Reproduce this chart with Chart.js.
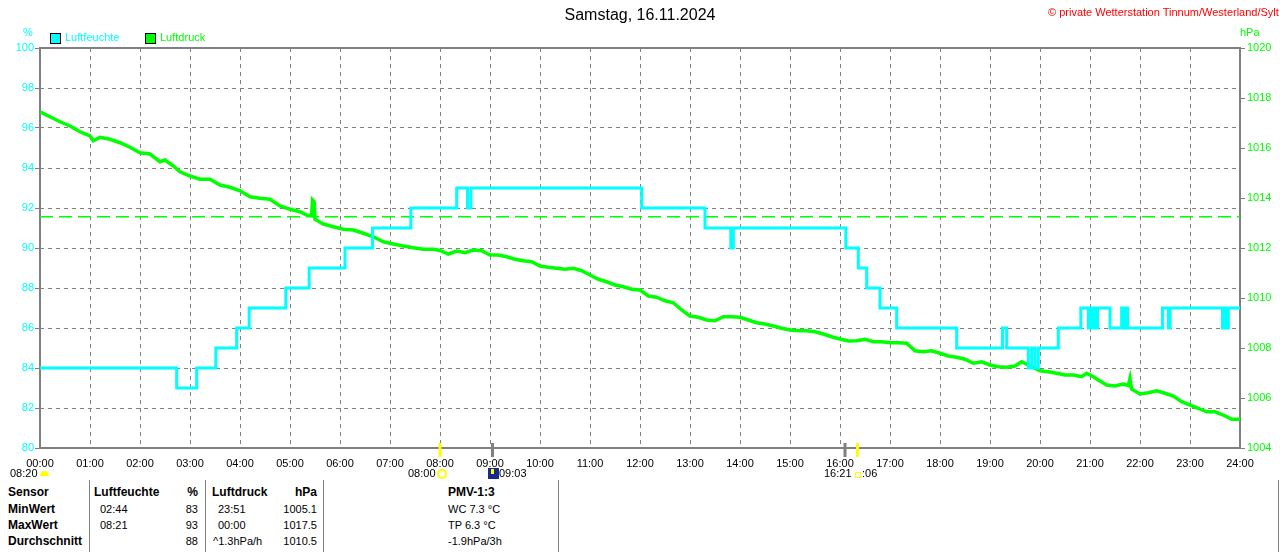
<!DOCTYPE html>
<html lang="de">
<head>
<meta charset="utf-8">
<title>Luftfeuchte / Luftdruck - Samstag, 16.11.2024</title>
<script src="https://cdn.jsdelivr.net/npm/chart.js@4.4.1/dist/chart.umd.min.js"></script>
<style>
  body { margin: 0; background: #fff; font-family: "Liberation Sans", Arial, sans-serif; }
  #wrap { position: relative; width: 1280px; height: 552px; overflow: hidden; background: #fff; }
  #grafik { position: absolute; left: 0; top: 0; }
  .t { position: absolute; font-size: 11px; line-height: 13px; white-space: nowrap; color: #000; }
  .b { font-weight: bold; font-size: 12px; }
  .r { text-align: right; }
  .box { position: absolute; width: 9px; height: 9px; border: 1px solid #000; }
  .trenn { position: absolute; top: 480px; width: 1px; height: 72px; background: #808080; }
</style>
</head>
<body>
<div id="wrap">
  <canvas id="grafik" width="1280" height="480"></canvas>

  <!-- Kopfzeile -->
  <div class="t" style="left:0;width:1280px;top:6px;text-align:center;font-size:16px;line-height:18px;">Samstag, 16.11.2024</div>
  <div class="t" style="left:1048px;top:6px;color:#ff0000;">© private Wetterstation Tinnum/Westerland/Sylt</div>

  <!-- Legende + Einheiten -->
  <div class="t" style="left:23px;top:26px;color:#00ffff;">%</div>
  <div class="t" style="left:1240px;top:26px;color:#00ff00;">hPa</div>
  <div class="box" style="left:50px;top:33px;background:#00ffff;"></div>
  <div class="t" style="left:65px;top:31px;color:#00ffff;">Luftfeuchte</div>
  <div class="box" style="left:145px;top:33px;background:#00ff00;"></div>
  <div class="t" style="left:160px;top:31px;color:#00ff00;">Luftdruck</div>

  <!-- Sonne / Mond unter der Zeitachse -->
  <div class="t" style="left:10px;top:467px;">08:20</div>
  <div style="position:absolute;left:40px;top:471px;width:9px;height:5px;background:#ffff00;border-radius:5px 5px 0 0;"></div>
  <div class="t" style="left:408px;top:467px;">08:00</div>
  <div style="position:absolute;left:437px;top:469px;width:6px;height:6px;border:2px solid #ffff00;border-radius:50%;"></div>
  <div style="position:absolute;left:488px;top:468px;width:11px;height:11px;background:#1a2a8a;"></div>
  <div style="position:absolute;left:491px;top:469px;width:3px;height:5px;background:#ffff00;"></div>
  <div class="t" style="left:499px;top:467px;">09:03</div>
  <div class="t" style="left:824px;top:467px;">16:21</div>
  <div style="position:absolute;left:855px;top:472px;width:4px;height:4px;border:1px solid #ffff00;"></div>
  <div class="t" style="left:862px;top:467px;">:06</div>

  <!-- Tabelle -->
  <div class="trenn" style="left:89px;"></div>
  <div class="trenn" style="left:205px;"></div>
  <div class="trenn" style="left:323px;"></div>
  <div class="trenn" style="left:558px;"></div>
  <div class="trenn" style="left:1278px;"></div>

  <div class="t b" style="left:8px;top:486px;">Sensor</div>
  <div class="t b" style="left:8px;top:503px;">MinWert</div>
  <div class="t b" style="left:8px;top:519px;">MaxWert</div>
  <div class="t b" style="left:8px;top:535px;">Durchschnitt</div>

  <div class="t b" style="left:94px;top:486px;">Luftfeuchte</div>
  <div class="t" style="left:100px;top:503px;">02:44</div>
  <div class="t" style="left:100px;top:519px;">08:21</div>

  <div class="t b r" style="left:150px;width:48px;top:486px;">%</div>
  <div class="t r" style="left:150px;width:48px;top:503px;">83</div>
  <div class="t r" style="left:150px;width:48px;top:519px;">93</div>
  <div class="t r" style="left:150px;width:48px;top:535px;">88</div>

  <div class="t b" style="left:212px;top:486px;">Luftdruck</div>
  <div class="t" style="left:218px;top:503px;">23:51</div>
  <div class="t" style="left:218px;top:519px;">00:00</div>
  <div class="t" style="left:213px;top:535px;">^1.3hPa/h</div>

  <div class="t b r" style="left:260px;width:57px;top:486px;">hPa</div>
  <div class="t r" style="left:260px;width:57px;top:503px;">1005.1</div>
  <div class="t r" style="left:260px;width:57px;top:519px;">1017.5</div>
  <div class="t r" style="left:260px;width:57px;top:535px;">1010.5</div>

  <div class="t b" style="left:448px;top:486px;">PMV-1:3</div>
  <div class="t" style="left:448px;top:503px;">WC 7.3 °C</div>
  <div class="t" style="left:448px;top:519px;">TP 6.3 °C</div>
  <div class="t" style="left:448px;top:535px;">-1.9hPa/3h</div>
</div>

<script>
// ════════════════════════════════════════
//  Daten (Minuten seit 00:00)
// ════════════════════════════════════════

// Luftfeuchte: Zeitpunkt der Änderung + neuer Wert (Treppenkurve)
const feuchteZeit = [0, 164, 188, 211, 236, 251, 295, 323, 366, 399, 445, 500, 513, 517,
  722, 798, 829, 832, 967, 982, 992, 1008, 1028, 1100, 1155, 1160, 1186, 1190, 1194, 1198,
  1222, 1249, 1258, 1261, 1263, 1265, 1267, 1269, 1284, 1298, 1300, 1302, 1305, 1347, 1354,
  1356, 1419, 1421, 1423, 1426, 1440];
const feuchteWert = [84, 83, 84, 85, 86, 87, 88, 89, 90, 91, 92, 93, 92, 93,
  92, 91, 90, 91, 90, 89, 88, 87, 86, 85, 86, 85, 84, 85, 84, 85,
  86, 87, 86, 87, 86, 87, 86, 87, 86, 87, 86, 87, 86, 87, 86,
  87, 86, 87, 86, 87, 87];

// Luftdruck in hPa
const druckZeit = [0, 12, 24, 36, 48, 60, 64, 72, 84, 96, 108, 120, 132, 144, 150, 160, 168,
  180, 192, 204, 216, 228, 240, 252, 264, 276, 288, 300, 312, 320, 326, 327, 329, 330, 340,
  352, 364, 376, 388, 400, 412, 424, 436, 448, 460, 472, 480, 490, 500, 510, 520, 530, 540,
  550, 560, 570, 580, 590, 600, 610, 620, 630, 640, 650, 660, 670, 680, 690, 700, 710, 720,
  730, 740, 750, 760, 770, 780, 790, 800, 810, 820, 830, 840, 850, 860, 870, 880, 890, 900,
  910, 920, 930, 940, 950, 960, 970, 980, 990, 1000, 1010, 1020, 1030, 1040, 1050, 1060,
  1070, 1080, 1090, 1100, 1110, 1120, 1130, 1140, 1150, 1160, 1170, 1178, 1190, 1200, 1210,
  1220, 1230, 1240, 1250, 1256, 1264, 1270, 1280, 1290, 1300, 1306, 1308, 1310, 1320, 1330,
  1340, 1350, 1360, 1370, 1380, 1390, 1400, 1410, 1420, 1430, 1440];
const druckWert = [1017.45, 1017.25, 1017.05, 1016.88, 1016.65, 1016.48, 1016.29, 1016.43,
  1016.35, 1016.21, 1016.03, 1015.81, 1015.76, 1015.45, 1015.52, 1015.28, 1015.05,
  1014.88, 1014.75, 1014.75, 1014.52, 1014.43, 1014.29, 1014.05, 1013.99, 1013.95, 1013.68,
  1013.55, 1013.45, 1013.32, 1013.30, 1013.92, 1013.85, 1013.15, 1012.96,
  1012.85, 1012.75, 1012.72, 1012.59, 1012.45, 1012.25, 1012.16, 1012.08, 1012.01, 1011.95,
  1011.95, 1011.90, 1011.76, 1011.88, 1011.81, 1011.92, 1011.89, 1011.72,
  1011.72, 1011.65, 1011.55, 1011.49, 1011.45, 1011.28, 1011.23, 1011.19, 1011.15, 1011.19,
  1011.09, 1010.92, 1010.75, 1010.65, 1010.52, 1010.45, 1010.35, 1010.32,
  1010.08, 1010.03, 1009.89, 1009.81, 1009.52, 1009.28, 1009.23, 1009.12, 1009.09, 1009.25,
  1009.25, 1009.23, 1009.12, 1009.01, 1008.96, 1008.88, 1008.79, 1008.72,
  1008.69, 1008.69, 1008.65, 1008.56, 1008.45, 1008.36, 1008.28, 1008.29, 1008.35, 1008.25,
  1008.25, 1008.21, 1008.21, 1008.19, 1007.89, 1007.85,
  1007.89, 1007.79, 1007.68, 1007.63, 1007.55, 1007.39, 1007.45, 1007.32, 1007.25, 1007.23,
  1007.28, 1007.45, 1007.25, 1007.09, 1007.05,
  1006.99, 1006.92, 1006.92, 1006.85, 1006.99, 1006.85, 1006.72, 1006.52, 1006.48, 1006.56,
  1006.50, 1006.79, 1006.35, 1006.16, 1006.21,
  1006.29, 1006.19, 1006.08, 1005.85, 1005.72, 1005.59, 1005.45, 1005.45, 1005.32, 1005.15,
  1005.15];

// Normaldruck (gestrichelte Linie)
const normaldruck = 1013.25;

// Beschriftung der Zeitachse
const zeitLabels = ["00:00", "01:00", "02:00", "03:00", "04:00", "05:00", "06:00", "07:00",
  "08:00", "09:00", "10:00", "11:00", "12:00", "13:00", "14:00", "15:00", "16:00", "17:00",
  "18:00", "19:00", "20:00", "21:00", "22:00", "23:00", "24:00"];

// Sonne/Mond Markierungen an der Zeitachse
const markerZeit = [480, 543, 966, 981];
const markerFarbe = ["#ffff00", "#808080", "#808080", "#ffff00"];


// ════════════════════════════════════════
//  Grafik
// ════════════════════════════════════════

const grau = "#808080";
const schrift = { family: "'Liberation Sans', Arial, sans-serif", size: 11 };

// Rahmen um die Zeichenfläche und Markierungen an der Zeitachse
const rahmenPlugin = {
  id: "rahmen",
  beforeDatasetsDraw(chart) {
    const { ctx, chartArea: a } = chart;
    ctx.save();
    ctx.strokeStyle = grau;
    ctx.lineWidth = 2;
    ctx.strokeRect(a.left, a.top, a.right - a.left, a.bottom - a.top);
    ctx.restore();
  },
  afterDraw(chart) {
    const { ctx } = chart;
    const x = chart.scales.x;
    ctx.save();
    markerZeit.forEach((t, i) => {
      const px = x.getPixelForValue(t);
      ctx.fillStyle = markerFarbe[i];
      ctx.fillRect(px - 1.5, 443, 3, 14);
    });
    ctx.restore();
  }
};

function inicializar() {
  new Chart(document.getElementById("grafik"), {
    type: "line",
    data: {
      datasets: [
        {
          label: "Luftfeuchte",
          data: feuchteZeit.map((t, i) => ({ x: t, y: feuchteWert[i] })),
          yAxisID: "y",
          borderColor: "#00ffff",
          borderWidth: 3,
          stepped: true,
          pointRadius: 0,
          fill: false
        },
        {
          label: "Luftdruck",
          data: druckZeit.map((t, i) => ({ x: t, y: druckWert[i] })),
          yAxisID: "y1",
          borderColor: "#00ff00",
          borderWidth: 3.5,
          pointRadius: 0,
          tension: 0,
          fill: false
        },
        {
          label: "Normaldruck",
          data: [{ x: 0, y: normaldruck }, { x: 1440, y: normaldruck }],
          yAxisID: "y1",
          borderColor: "#00ff00",
          borderWidth: 1.5,
          borderDash: [13, 6],
          pointRadius: 0,
          fill: false
        }
      ]
    },
    options: {
      responsive: false,
      animation: false,
      events: [],
      layout: { padding: { top: 48, left: 0, right: 0, bottom: 0 } },
      plugins: {
        legend: { display: false },
        tooltip: { enabled: false },
        title: { display: false }
      },
      scales: {
        x: {
          type: "linear",
          min: 0,
          max: 1440,
          afterFit: s => { s.height = 32; },
          afterBuildTicks: s => { s.ticks = zeitLabels.map((_, i) => ({ value: i * 60 })); },
          ticks: {
            autoSkip: false,
            maxRotation: 0,
            padding: 9,
            color: "#000",
            font: schrift,
            callback: v => zeitLabels[Math.round(v / 60)]
          },
          grid: { color: grau, lineWidth: 1, drawTicks: false },
          border: { display: false, dash: [4, 4] }
        },
        y: {
          position: "left",
          min: 80,
          max: 100,
          afterFit: s => { s.width = 40; },
          ticks: { stepSize: 2, padding: 1, color: "#00ffff", font: schrift, callback: v => String(v) },
          grid: { color: grau, lineWidth: 1, tickLength: 5, tickColor: grau, tickBorderDash: [] },
          border: { display: false, dash: [4, 4] }
        },
        y1: {
          position: "right",
          min: 1004,
          max: 1020,
          afterFit: s => { s.width = 40; },
          ticks: { stepSize: 2, padding: 2, color: "#00ff00", font: schrift, callback: v => String(v) },
          grid: { drawOnChartArea: false, color: grau, tickLength: 5, tickColor: grau },
          border: { display: false }
        }
      }
    },
    plugins: [rahmenPlugin]
  });
}

inicializar();
</script>
</body>
</html>
